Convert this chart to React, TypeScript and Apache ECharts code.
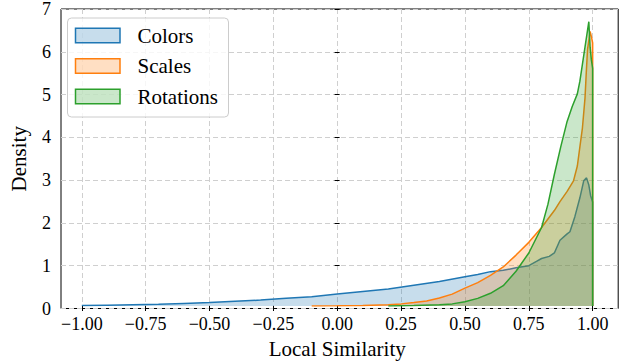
import React, { useEffect, useRef } from "react";
import * as echarts from "echarts";

const FONT = "'Liberation Serif', 'Times New Roman', serif";

const seriesNames = ["Colors", "Scales", "Rotations"];
const seriesColors = ["#1f77b4", "#ff7f0e", "#2ca02c"];
const seriesFills = ["rgba(31,119,180,0.25)", "rgba(255,127,14,0.25)", "rgba(44,160,44,0.25)"];

const colorsX = [-1.0, -0.9, -0.8, -0.7, -0.6, -0.5, -0.4, -0.3, -0.2, -0.1, 0.0, 0.1, 0.2, 0.3, 0.4, 0.5, 0.55, 0.6, 0.65, 0.7, 0.75, 0.78, 0.8, 0.83, 0.85, 0.872, 0.9, 0.911, 0.93, 0.95, 0.965, 0.976, 0.985, 0.992, 1.0, 1.0];
const colorsY = [0.01, 0.02, 0.03, 0.04, 0.06, 0.08, 0.11, 0.14, 0.18, 0.22, 0.28, 0.34, 0.40, 0.49, 0.58, 0.69, 0.74, 0.81, 0.84, 0.9, 0.95, 1.05, 1.12, 1.17, 1.25, 1.55, 1.7, 1.75, 2.1, 2.55, 2.95, 3.02, 2.85, 2.6, 2.45, 0];

const scalesX = [-0.1, 0.0, 0.1, 0.2, 0.25, 0.3, 0.35, 0.4, 0.45, 0.5, 0.55, 0.6, 0.65, 0.7, 0.75, 0.8, 0.85, 0.872, 0.9, 0.925, 0.94, 0.95, 0.96, 0.97, 0.975, 0.98, 0.99, 0.995, 1.0, 1.0];
const scalesY = [0, 0.003, 0.01, 0.03, 0.05, 0.08, 0.12, 0.19, 0.28, 0.42, 0.55, 0.72, 0.92, 1.2, 1.5, 1.85, 2.25, 2.46, 2.7, 2.95, 3.3, 3.75, 4.2, 4.9, 5.5, 6.05, 6.47, 6.35, 6.2, 0];

const rotationsX = [0.2, 0.3, 0.4, 0.45, 0.5, 0.55, 0.6, 0.65, 0.7, 0.75, 0.8, 0.825, 0.85, 0.875, 0.9, 0.92, 0.94, 0.95, 0.96, 0.97, 0.98, 0.985, 0.99, 0.995, 1.0, 1.0];
const rotationsY = [0.0, 0.01, 0.03, 0.05, 0.1, 0.18, 0.3, 0.48, 0.82, 1.25, 1.85, 2.4, 3.1, 3.75, 4.35, 4.7, 5.0, 5.3, 5.7, 6.1, 6.5, 6.7, 6.1, 5.8, 5.6, 0];

const xTicks = [-1.0, -0.75, -0.5, -0.25, 0.0, 0.25, 0.5, 0.75, 1.0];
const yTicks = [0, 1, 2, 3, 4, 5, 6, 7];

const allX = [colorsX, scalesX, rotationsX];
const allY = [colorsY, scalesY, rotationsY];

export default function App() {
  const ref = useRef<HTMLDivElement>(null);
  useEffect(() => {
    if (!ref.current) return;
    const chart = echarts.init(ref.current, undefined, { renderer: "svg" });
    const W = 621;
    const frameL = 56.3, frameR = 618.2, top = 9, bottom = 308.5;
    const pxPerUnit = (frameR - frameL) / 2.2;
    const innerL = frameL + 0.1 * pxPerUnit;
    const innerR = frameR - 0.1 * pxPerUnit;
    const dash = { color: "#cfcfcf", type: [5, 3] as any, width: 1 };

    const series = seriesNames.map((name, i) => ({
      name,
      type: "line",
      xAxisIndex: 1,
      yAxisIndex: 1,
      data: allX[i].map((x, j) => [x, allY[i][j]]),
      showSymbol: false,
      symbol: "none",
      smooth: false,
      lineStyle: { color: seriesColors[i], width: 1.5 },
      itemStyle: { color: seriesColors[i] },
      areaStyle: { color: seriesFills[i], opacity: 1 },
      z: 3 + i,
    }));

    const graphics: any[] = [
      {
        type: "rect",
        z: 100,
        shape: { x: 67.5, y: 18, width: 161, height: 99, r: 4 },
        style: { fill: "rgba(255,255,255,0.8)", stroke: "#cccccc", lineWidth: 1 },
      },
    ];
    seriesNames.forEach((name, i) => {
      const cy = 35.5 + i * 30.5;
      graphics.push({
        type: "rect",
        z: 101,
        shape: { x: 75.5, y: cy - 7.25, width: 44.5, height: 14.5 },
        style: { fill: seriesFills[i], stroke: seriesColors[i], lineWidth: 1.5 },
      });
      graphics.push({
        type: "text",
        z: 101,
        x: 137.5,
        y: cy,
        style: { text: name, fontFamily: FONT, fontSize: 21, fill: "#000", verticalAlign: "middle" },
      });
    });

    const tickFmt = (v: number) => "{t|" + (v < 0 ? "\u2212" : "") + Math.abs(v).toFixed(2) + "}";
    const richT = { t: { fontFamily: FONT, fontSize: 18, color: "#000" } };

    chart.setOption({
      animation: false,
      textStyle: { fontFamily: FONT },
      grid: [
        { left: frameL, right: W - frameR, top, bottom: 364 - bottom, show: true, borderColor: "#000", borderWidth: 1, backgroundColor: "transparent", containLabel: false },
        { left: innerL, right: W - innerR, top, bottom: 364 - bottom, containLabel: false },
      ],
      xAxis: [
        { type: "value", gridIndex: 0, min: -1.1, max: 1.1, show: false },
        {
          type: "value", gridIndex: 1, min: xTicks[0], max: xTicks[xTicks.length - 1], interval: 0.25,
          name: "Local Similarity", nameLocation: "middle", nameGap: 32,
          nameTextStyle: { fontFamily: FONT, fontSize: 21, color: "#000" },
          axisLine: { show: false },
          axisTick: { show: true, inside: false, length: 5, lineStyle: { color: "#000", width: 1 } },
          axisLabel: { color: "#000", fontFamily: FONT, fontSize: 18, margin: 9, formatter: tickFmt, rich: richT },
          splitLine: { show: true, lineStyle: dash },
        },
      ],
      yAxis: [
        {
          type: "value", gridIndex: 0, min: yTicks[0], max: yTicks[yTicks.length - 1], interval: 1,
          name: "Density", nameLocation: "middle", nameGap: 32,
          nameTextStyle: { fontFamily: FONT, fontSize: 21, color: "#000" },
          axisLine: { show: false },
          axisTick: { show: true, inside: false, length: 5, lineStyle: { color: "#000", width: 1 } },
          axisLabel: { color: "#000", fontFamily: FONT, fontSize: 18, margin: 10, formatter: (v: number) => "{t|" + v + "}", rich: richT },
          splitLine: { show: true, lineStyle: dash },
        },
        { type: "value", gridIndex: 1, min: 0, max: 7, show: false, splitLine: { show: false } },
      ],
      series,
      graphic: graphics,
    });
    return () => chart.dispose();
  }, []);
  return <div ref={ref} style={{ width: 621, height: 364, position: "absolute", left: 0, top: 0 }} />;
}
